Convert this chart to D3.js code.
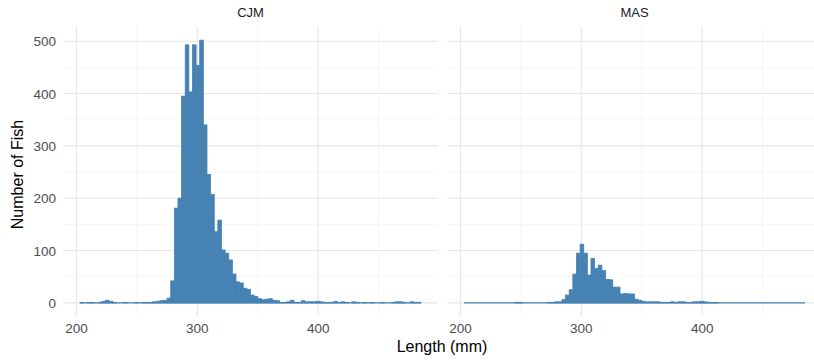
<!DOCTYPE html>
<html>
<head>
<meta charset="utf-8">
<script src="https://cdn.jsdelivr.net/npm/d3@7"></script>
<style>
  body { margin: 0; background: #fff; }
  text { font-family: "Liberation Sans", Arial, sans-serif; }
</style>
</head>
<body>
<div id="chart"></div>
<script>
// histogram bins: 3 mm wide, starting at 203 mm
var binStart = 203;
var binWidth = 3;

var panels = ["CJM", "MAS"];

var cjmCounts = [
  1, 0, 1, 1, 0, 1, 3, 5, 3, 1,
  0, 0, 1, 0, 0, 1, 0, 1, 1, 1,
  2, 3, 4, 5, 9, 42, 181, 200, 395, 493,
  403, 493, 454, 502, 340, 245, 207, 136, 158, 101,
  95, 82, 55, 40, 38, 28, 26, 15, 12, 8,
  6, 7, 8, 5, 4, 1, 1, 2, 5, 1,
  1, 4, 2, 2, 2, 3, 2, 1, 1, 1,
  3, 1, 2, 1, 0, 2, 1, 0, 1, 0,
  1, 0, 0, 1, 0, 0, 1, 2, 2, 1,
  0, 2, 1, 1
];

var masCounts = [
  0, 0, 0, 0, 0, 0, 0, 0, 0, 0,
  0, 0, 0, 0, 1, 1, 0, 0, 0, 0,
  0, 0, 0, 1, 1, 2, 2, 6, 15, 25,
  55, 95, 112, 95, 53, 85, 66, 72, 62, 45,
  44, 30, 30, 17, 18, 17, 17, 7, 5, 3,
  2, 2, 2, 2, 1, 1, 1, 2, 1, 2,
  2, 1, 1, 2, 2, 3, 2, 1, 1, 1,
  0, 0, 0, 0, 0, 0, 0, 0, 0, 0,
  0, 0, 0, 0, 0, 0, 0, 0, 0, 0,
  0, 0, 0, 0
];

var xMajor = [200, 300, 400];
var xMinor = [250, 350, 450];
var yMajor = [0, 100, 200, 300, 400, 500];
var yMinor = [50, 150, 250, 350, 450];

var width = 814, height = 361;
var panelLeft = [63, 447];
var panelW = 375;
var panelTop = 27, panelBottom = 316;

var svg = d3.select("#chart").append("svg")
    .attr("width", width)
    .attr("height", height);

var nBins = cjmCounts.length;
var binEnd = binStart + nBins * binWidth;
var pad = (binEnd - binStart) * 0.05;
var maxCount = d3.max(cjmCounts.concat(masCounts));

var y = d3.scaleLinear()
    .domain([-maxCount * 0.05, maxCount * 1.05])
    .range([panelBottom, panelTop]);

var seriesData = [cjmCounts, masCounts];

panels.forEach(function(name, p) {
  var x = d3.scaleLinear()
      .domain([binStart - pad, binEnd + pad])
      .range([panelLeft[p], panelLeft[p] + panelW]);

  var g = svg.append("g");

  // grid
  g.selectAll(".ymin").data(yMinor).enter().append("line")
      .attr("x1", x.range()[0]).attr("x2", x.range()[1])
      .attr("y1", function(d) { return y(d); }).attr("y2", function(d) { return y(d); })
      .attr("stroke", "#f0f0f0").attr("stroke-width", 0.6);
  g.selectAll(".xmin").data(xMinor).enter().append("line")
      .attr("y1", panelTop).attr("y2", panelBottom)
      .attr("x1", function(d) { return x(d); }).attr("x2", function(d) { return x(d); })
      .attr("stroke", "#f0f0f0").attr("stroke-width", 0.6);
  g.selectAll(".ymaj").data(yMajor).enter().append("line")
      .attr("x1", x.range()[0]).attr("x2", x.range()[1])
      .attr("y1", function(d) { return y(d); }).attr("y2", function(d) { return y(d); })
      .attr("stroke", "#e6e6e6").attr("stroke-width", 1.1);
  g.selectAll(".xmaj").data(xMajor).enter().append("line")
      .attr("y1", panelTop).attr("y2", panelBottom)
      .attr("x1", function(d) { return x(d); }).attr("x2", function(d) { return x(d); })
      .attr("stroke", "#e6e6e6").attr("stroke-width", 1.1);

  // outline of empty bins along zero
  g.append("line")
      .attr("x1", x(binStart)).attr("x2", x(binEnd))
      .attr("y1", y(0)).attr("y2", y(0))
      .attr("stroke", "#4682b4")
      .attr("stroke-width", 1.2);

  // bars
  var bins = seriesData[p].map(function(c, i) {
    return { x0: binStart + i * binWidth, x1: binStart + (i + 1) * binWidth, n: c };
  });
  g.selectAll("rect").data(bins.filter(function(d) { return d.n > 0; })).enter().append("rect")
      .attr("x", function(d) { return x(d.x0); })
      .attr("width", function(d) { return x(d.x1) - x(d.x0); })
      .attr("y", function(d) { return y(d.n); })
      .attr("height", function(d) { return y(0) - y(d.n); })
      .attr("fill", "#4682b4")
      .attr("stroke", "#4682b4")
      .attr("stroke-width", 0.8);

  // strip label
  g.append("text")
      .attr("x", panelLeft[p] + panelW / 2)
      .attr("y", 17)
      .attr("text-anchor", "middle")
      .attr("font-size", 13)
      .attr("fill", "#1a1a1a")
      .text(name);

  // x tick labels
  g.selectAll(".xl").data(xMajor).enter().append("text")
      .attr("x", function(d) { return x(d); })
      .attr("y", 333)
      .attr("text-anchor", "middle")
      .attr("font-size", 13.5)
      .attr("fill", "#4d4d4d")
      .text(function(d) { return d; });
});

// y tick labels (left panel only)
svg.selectAll(".yl").data(yMajor).enter().append("text")
    .attr("x", 56)
    .attr("y", function(d) { return y(d) + 5; })
    .attr("text-anchor", "end")
    .attr("font-size", 13.5)
    .attr("fill", "#4d4d4d")
    .text(function(d) { return d; });

// axis titles
svg.append("text")
    .attr("x", 442)
    .attr("y", 352)
    .attr("text-anchor", "middle")
    .attr("font-size", 16)
    .attr("fill", "#000")
    .text("Length (mm)");

svg.append("text")
    .attr("transform", "translate(23," + ((panelTop + panelBottom) / 2 + 3) + ") rotate(-90)")
    .attr("text-anchor", "middle")
    .attr("font-size", 16)
    .attr("fill", "#000")
    .text("Number of Fish");
</script>
</body>
</html>
